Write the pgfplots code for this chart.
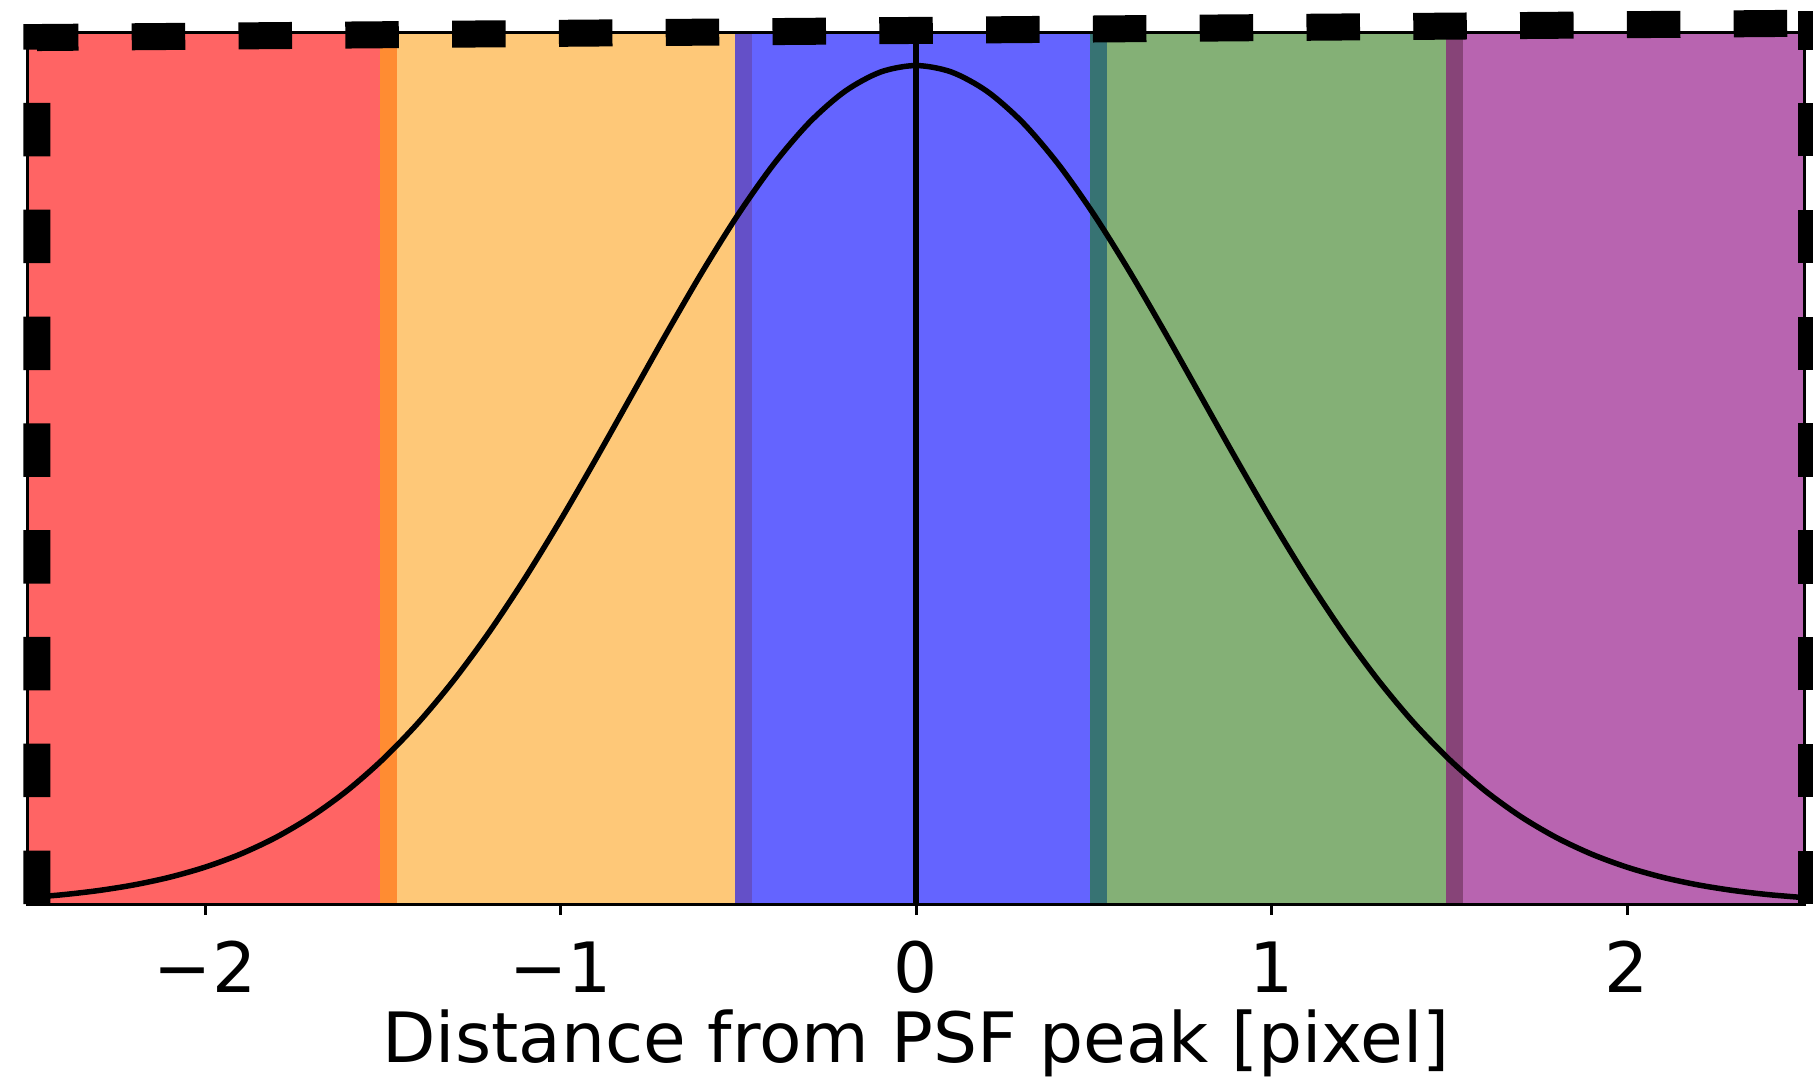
\documentclass[border=0pt]{standalone}
\usepackage{fontspec}
\setmainfont{DejaVu Sans}
\usepackage{pgfplots}
\pgfplotsset{compat=1.18}
\definecolor{cRed}{HTML}{FF6464}
\definecolor{cOrange}{HTML}{FEC878}
\definecolor{cBlue}{HTML}{6464FF}
\definecolor{cGreen}{HTML}{84B076}
\definecolor{cPurple}{HTML}{B864B0}
\definecolor{oRO}{HTML}{FF8C32}
\definecolor{oOB}{HTML}{6450C8}
\definecolor{oBG}{HTML}{377373}
\definecolor{oGP}{HTML}{874478}
\begin{document}
\begin{tikzpicture}
\begin{axis}[
  at={(0,0)}, anchor=south west,
  scale only axis,
  width=177.75mm, height=87.2mm,
  xmin=-2.5, xmax=2.5, ymin=0, ymax=1.04,
  clip=false,
  axis on top,
  axis line style={line width=0.3mm, black},
  xtick={-2,-1,0,1,2},
  xticklabels={−2,−1,0,1,2},
  ytick=\empty,
  xtick pos=bottom,
  tick align=outside,
  major tick length=1.1mm,
  every tick/.style={line width=0.3mm, black},
  xticklabel style={font=\fontsize{19.75pt}{24pt}\selectfont, anchor=base, yshift=-7.77mm},
  xlabel={Distance from PSF peak [pixel]},
  xlabel style={font=\fontsize{19.75pt}{24pt}\selectfont, at={(axis description cs:0.5,0)}, anchor=base, yshift=-15.8mm},
]
% colour bands
\addplot[fill=cRed, draw=none] coordinates {(-2.5,1.04) (-1.461,1.04)} \closedcycle;
\addplot[fill=cOrange, draw=none] coordinates {(-1.509,1.04) (-0.461,1.04)} \closedcycle;
\addplot[fill=cBlue, draw=none] coordinates {(-0.509,1.04) (0.538,1.04)} \closedcycle;
\addplot[fill=cGreen, draw=none] coordinates {(0.490,1.04) (1.539,1.04)} \closedcycle;
\addplot[fill=cPurple, draw=none] coordinates {(1.490,1.04) (2.5,1.04)} \closedcycle;
% overlap strips
\addplot[fill=oRO, draw=none] coordinates {(-1.509,1.04) (-1.461,1.04)} \closedcycle;
\addplot[fill=oOB, draw=none] coordinates {(-0.509,1.04) (-0.461,1.04)} \closedcycle;
\addplot[fill=oBG, draw=none] coordinates {(0.490,1.04) (0.538,1.04)} \closedcycle;
\addplot[fill=oGP, draw=none] coordinates {(1.490,1.04) (1.539,1.04)} \closedcycle;
% PSF profile
\addplot[black, line width=0.55mm, smooth] table {
x y
-2.5 0.00758
-2.4 0.01111
-2.3 0.01604
-2.2 0.02280
-2.1 0.03190
-2.0 0.04394
-1.9 0.05958
-1.8 0.07956
-1.7 0.10459
-1.6 0.13534
-1.5 0.17243
-1.4 0.21627
-1.3 0.26706
-1.2 0.32465
-1.1 0.38857
-1.0 0.45783
-0.9 0.53110
-0.8 0.60653
-0.7 0.68195
-0.6 0.75484
-0.5 0.82258
-0.4 0.88250
-0.3 0.93210
-0.2 0.96923
-0.1 0.99222
0.0 1.00000
0.1 0.99222
0.2 0.96923
0.3 0.93210
0.4 0.88250
0.5 0.82258
0.6 0.75484
0.7 0.68195
0.8 0.60653
0.9 0.53110
1.0 0.45783
1.1 0.38857
1.2 0.32465
1.3 0.26706
1.4 0.21627
1.5 0.17243
1.6 0.13534
1.7 0.10459
1.8 0.07956
1.9 0.05958
2.0 0.04394
2.1 0.03190
2.2 0.02280
2.3 0.01604
2.4 0.01111
2.5 0.00758
};
% peak line
\addplot[black, line width=0.55mm] coordinates {(0,0) (0,1.04)};
% dashed pixel outline
\addplot[black, line width=2.7mm, dash pattern=on 5.35mm off 5.33mm] coordinates {(-2.4726,0) (-2.4726,1.0334) (2.519,1.0505)};
\addplot[black, line width=2.7mm, dash pattern=on 5.35mm off 5.33mm] coordinates {(2.519,0) (2.519,1.0645)};
\end{axis}
\pgfresetboundingbox
\useasboundingbox (-2.725mm,-17.7mm) rectangle (178.575mm,90.4mm);
\end{tikzpicture}
\end{document}
